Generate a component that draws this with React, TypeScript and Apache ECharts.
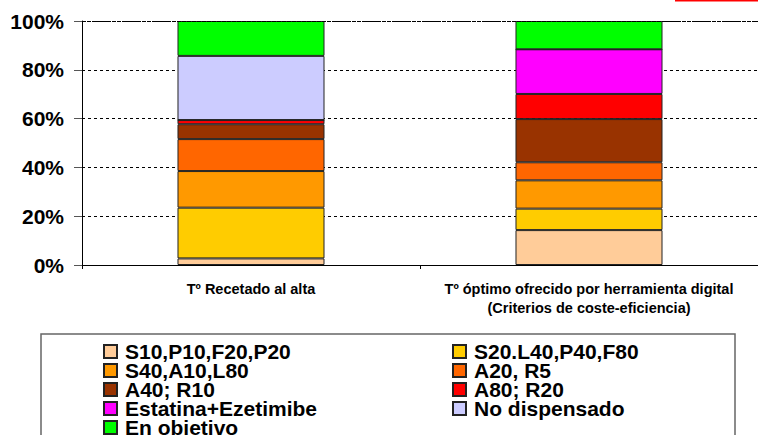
import React, { useEffect, useRef } from "react";
import * as echarts from "echarts";

// Categories shown on the x axis
const categories: string[] = [
  "Tº Recetado al alta",
  "Tº óptimo ofrecido por herramienta digital\n(Criterios de coste-eficiencia)",
];

// Treatment groups (stack order, bottom to top)
const seriesNames: string[] = [
  "S10,P10,F20,P20",
  "S20.L40,P40,F80",
  "S40,A10,L80",
  "A20, R5",
  "A40; R10",
  "A80; R20",
  "Estatina+Ezetimibe",
  "No dispensado",
  "En objetivo",
];

const seriesColors: string[] = [
  "#FFCC99",
  "#FFCC00",
  "#FF9900",
  "#FF6600",
  "#993300",
  "#FF0000",
  "#FF00FF",
  "#CCCCFF",
  "#00FF00",
];

// Percentage share per group for each category
const s10: number[] = [2.7, 14.3];
const s20: number[] = [20.8, 8.8];
const s40: number[] = [15.0, 11.6];
const a20: number[] = [13.1, 7.4];
const a40: number[] = [6.1, 17.7];
const a80: number[] = [1.7, 10.3];
const estatina: number[] = [0, 18.3];
const noDispensado: number[] = [26.3, 0];
const enObjetivo: number[] = [14.3, 11.6];

const seriesValues: number[][] = [s10, s20, s40, a20, a40, a80, estatina, noDispensado, enObjetivo];

// Legend columns
const legendLeft: string[] = [seriesNames[0], seriesNames[2], seriesNames[4], seriesNames[6], seriesNames[8]];
const legendRight: string[] = [seriesNames[1], seriesNames[3], seriesNames[5], seriesNames[7]];

const FONT = "'Liberation Sans', Arial, Helvetica, sans-serif";

export default function App() {
  const ref = useRef<HTMLDivElement>(null);

  useEffect(() => {
    if (!ref.current) return;
    const chart = echarts.init(ref.current, undefined, { renderer: "svg" });

    const legendCommon = {
      orient: "vertical" as const,
      icon: "rect",
      itemWidth: 13,
      itemHeight: 13,
      itemGap: -2,
      height: 300,
      padding: 0,
      selectedMode: false,
      textStyle: {
        fontFamily: FONT,
        fontSize: 21,
        fontWeight: "bold" as const,
        color: "#000",
        lineHeight: 19,
        padding: [0, 0, 0, 3],
      },
    };

    chart.setOption({
      animation: false,
      backgroundColor: "#fff",
      textStyle: { fontFamily: FONT },
      grid: { left: 82, right: -4, top: 21, bottom: 170, containLabel: false },
      xAxis: {
        type: "category",
        data: categories,
        axisLine: { lineStyle: { color: "#000", width: 1 } },
        axisTick: { show: true, length: 4, lineStyle: { color: "#000" } },
        axisLabel: {
          color: "#000",
          fontFamily: FONT,
          fontSize: 14.5,
          fontWeight: "bold",
          lineHeight: 19,
          margin: 14,
          interval: 0,
        },
      },
      yAxis: {
        type: "value",
        min: 0,
        max: 100,
        interval: 20,
        axisLine: { show: true, lineStyle: { color: "#000", width: 1 } },
        axisTick: { show: true, length: 8, lineStyle: { color: "#555" } },
        axisLabel: {
          formatter: "{value}%",
          color: "#000",
          fontFamily: FONT,
          fontSize: 21,
          fontWeight: "bold",
          margin: 18,
        },
        splitLine: { show: true, lineStyle: { color: "#000", type: [3, 3], width: 1 } },
      },
      legend: [
        { ...legendCommon, data: legendLeft, left: 103, top: 341 },
        { ...legendCommon, data: legendRight, left: 452, top: 341 },
      ],
      graphic: [
        {
          type: "rect",
          shape: { x: 41, y: 334, width: 694, height: 200 },
          style: { fill: "none", stroke: "#666", lineWidth: 1.5 },
          silent: true,
        },
        {
          type: "line",
          shape: { x1: 675, y1: 0.5, x2: 758, y2: 0.5 },
          style: { stroke: "#FF0000", lineWidth: 2 },
          silent: true,
        },
      ],
      series: seriesNames.map((name, i) => ({
        name,
        type: "bar",
        stack: "total",
        barWidth: "43.5%",
        data: seriesValues[i],
        itemStyle: { color: seriesColors[i], borderColor: "#222", borderWidth: 1 },
        ...(i === 0
          ? {
              markLine: {
                silent: true,
                symbol: "none",
                label: { show: false },
                lineStyle: { color: "#000", type: [4, 1], width: 1 },
                data: [{ yAxis: 100 }],
              },
            }
          : {}),
      })),
    });

    return () => chart.dispose();
  }, []);

  return (
    <div
      ref={ref}
      style={{ position: "absolute", left: 0, top: 0, width: 758, height: 435 }}
    />
  );
}
